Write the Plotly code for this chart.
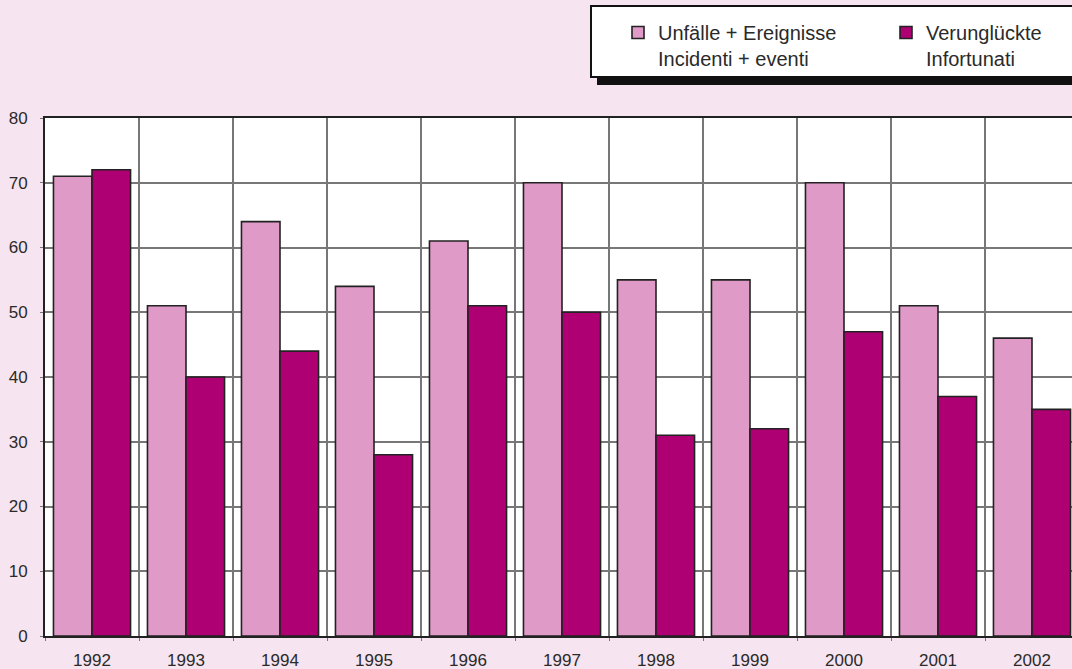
import plotly.graph_objects as go

years = ["1992", "1993", "1994", "1995", "1996", "1997", "1998", "1999", "2000", "2001", "2002"]
unfaelle = [71, 51, 64, 54, 61, 70, 55, 55, 70, 51, 46]
verunglueckte = [72, 40, 44, 28, 51, 50, 31, 32, 47, 37, 35]
name1 = "Unfälle + Ereignisse<br>Incidenti + eventi"
name2 = "Verunglückte<br>Infortunati"

W, H = 1072, 669
L, T, B = 45, 118, 33
pw = W - L
ph = H - T - B


def px_x(x):
    return (x - L) / pw


def px_y(y):
    return (H - B - y) / ph


fig = go.Figure()
fig.add_trace(go.Bar(x=years, y=unfaelle, name=name1,
                     marker=dict(color="#E09AC8", line=dict(color="#222222", width=1.6))))
fig.add_trace(go.Bar(x=years, y=verunglueckte, name=name2,
                     marker=dict(color="#AE0072", line=dict(color="#222222", width=1.6))))

# legend box with drop shadow
fig.add_shape(type="rect", xref="paper", yref="paper",
              x0=px_x(597), x1=px_x(1100), y0=px_y(85), y1=px_y(13),
              fillcolor="#111111", line=dict(width=0), layer="above")
fig.add_shape(type="rect", xref="paper", yref="paper",
              x0=px_x(591), x1=px_x(1100), y0=px_y(77), y1=px_y(6),
              fillcolor="white", line=dict(color="#111111", width=2), layer="above")

fig.update_layout(
    width=W, height=H,
    margin=dict(l=L, r=0, t=T, b=B, pad=0, autoexpand=False),
    paper_bgcolor="#F6E4F0",
    plot_bgcolor="white",
    font=dict(family="Liberation Sans, Arial, sans-serif", size=17, color="#2a2a2a"),
    barmode="group",
    bargap=0.18,
    bargroupgap=0,
    showlegend=True,
    legend=dict(orientation="h", x=px_x(594), xanchor="left",
                y=px_y(13), yanchor="top",
                bgcolor="rgba(0,0,0,0)", borderwidth=0,
                font=dict(size=20, color="#2a2a2a"),
                indentation=24, valign="top",
                entrywidth=199, entrywidthmode="pixels",
                traceorder="normal"),
    xaxis=dict(type="category", range=[-0.5, -0.5 + pw / 94.0],
               tickson="boundaries", showgrid=True, gridcolor="#777777", gridwidth=1.5,
               showline=True, linecolor="#222222", linewidth=2, mirror=True,
               ticks="outside", ticklen=3, tickcolor="#777777", ticklabelstandoff=8,
               tickfont=dict(size=17, color="#2a2a2a")),
    yaxis=dict(range=[0, 80], dtick=10, showgrid=True, gridcolor="#777777", gridwidth=1.5,
               showline=True, linecolor="#222222", linewidth=2,
               ticks="outside", ticklen=3, tickcolor="#777777", zeroline=False,
               ticklabelstandoff=9,
               tickfont=dict(size=17, color="#2a2a2a")),
)

fig.write_html("out.html", config={"displayModeBar": False},
               post_script="document.body.style.margin='0';")
